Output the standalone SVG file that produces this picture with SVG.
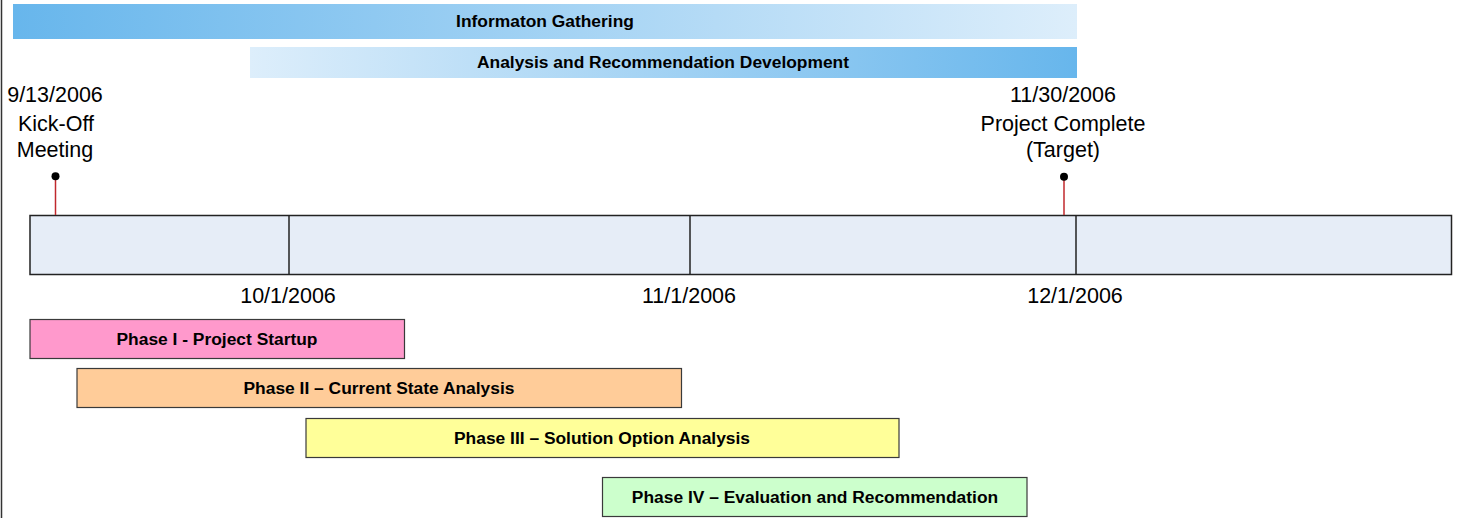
<svg xmlns="http://www.w3.org/2000/svg" width="1461" height="518" viewBox="0 0 1461 518">
<defs>
<linearGradient id="gDarkLight" x1="0" y1="0" x2="1" y2="0">
<stop offset="0" stop-color="#67B6EC"/>
<stop offset="1" stop-color="#DDEEFB"/>
</linearGradient>
<linearGradient id="gLightDark" x1="0" y1="0" x2="1" y2="0">
<stop offset="0" stop-color="#DDEEFB"/>
<stop offset="1" stop-color="#67B6EC"/>
</linearGradient>
<style>
.lbl{font-family:"Liberation Sans",Arial,sans-serif;font-size:21.5px;fill:#000;text-anchor:middle}
.bold{font-family:"Liberation Sans",Arial,sans-serif;font-size:17.4px;font-weight:bold;fill:#000;text-anchor:middle}
.phase{stroke:#3a3a3a;stroke-width:1.2}
.tl{fill:#E6EDF7;stroke:#222;stroke-width:1.5}
.div{stroke:#222;stroke-width:1.5}
.stem{stroke:#C0282D;stroke-width:1.5}
</style>
</defs>
<rect x="0" y="0" width="1461" height="518" fill="#fff"/>
<line x1="1.5" y1="0" x2="1.5" y2="518" stroke="#333" stroke-width="1.5"/>

<g id="info-gathering">
<rect x="13" y="4" width="1064" height="35" fill="url(#gDarkLight)"/>
<text class="bold" x="545" y="27">Informaton Gathering</text>
</g>
<g id="analysis-dev">
<rect x="250" y="47" width="827" height="31" fill="url(#gLightDark)"/>
<text class="bold" x="663" y="68">Analysis and Recommendation Development</text>
</g>

<g id="timeline">
<rect class="tl" x="30" y="215.5" width="1421.5" height="59"/>
</g>

<g id="connectors">
<line class="div" x1="289" y1="215.5" x2="289" y2="274.5"/>
<line class="div" x1="690" y1="215.5" x2="690" y2="274.5"/>
<line class="div" x1="1076" y1="215.5" x2="1076" y2="274.5"/>
<line class="stem" x1="55.5" y1="176" x2="55.5" y2="215"/>
<line class="stem" x1="1064" y1="177" x2="1064" y2="215"/>
<circle cx="55.5" cy="176.3" r="4" fill="#000"/>
<circle cx="1064" cy="176.8" r="4" fill="#000"/>
</g>

<g id="kickoff">
<text class="lbl" x="55" y="102">9/13/2006</text>
<text class="lbl" x="56" y="130.5">Kick-Off</text>
<text class="lbl" x="55" y="157">Meeting</text>
</g>
<g id="complete">
<text class="lbl" x="1063" y="102">11/30/2006</text>
<text class="lbl" x="1063" y="130.5">Project Complete</text>
<text class="lbl" x="1063" y="157">(Target)</text>
</g>

<g id="dates">
<text class="lbl" x="288" y="303">10/1/2006</text>
<text class="lbl" x="689" y="303">11/1/2006</text>
<text class="lbl" x="1075" y="303">12/1/2006</text>
</g>

<g id="phase1">
<rect class="phase" x="30" y="319.5" width="374.5" height="39" fill="#FF99CC"/>
<text class="bold" x="217" y="344.5">Phase I - Project Startup</text>
</g>
<g id="phase2">
<rect class="phase" x="77" y="368.5" width="604.5" height="39" fill="#FFCC99"/>
<text class="bold" x="379" y="393.5">Phase II – Current State Analysis</text>
</g>
<g id="phase3">
<rect class="phase" x="306" y="418.5" width="593" height="39" fill="#FFFF99"/>
<text class="bold" x="602" y="443.5">Phase III – Solution Option Analysis</text>
</g>
<g id="phase4">
<rect class="phase" x="602.5" y="477.5" width="424.5" height="39" fill="#CCFFCC"/>
<text class="bold" x="815" y="502.5">Phase IV – Evaluation and Recommendation</text>
</g>
</svg>
